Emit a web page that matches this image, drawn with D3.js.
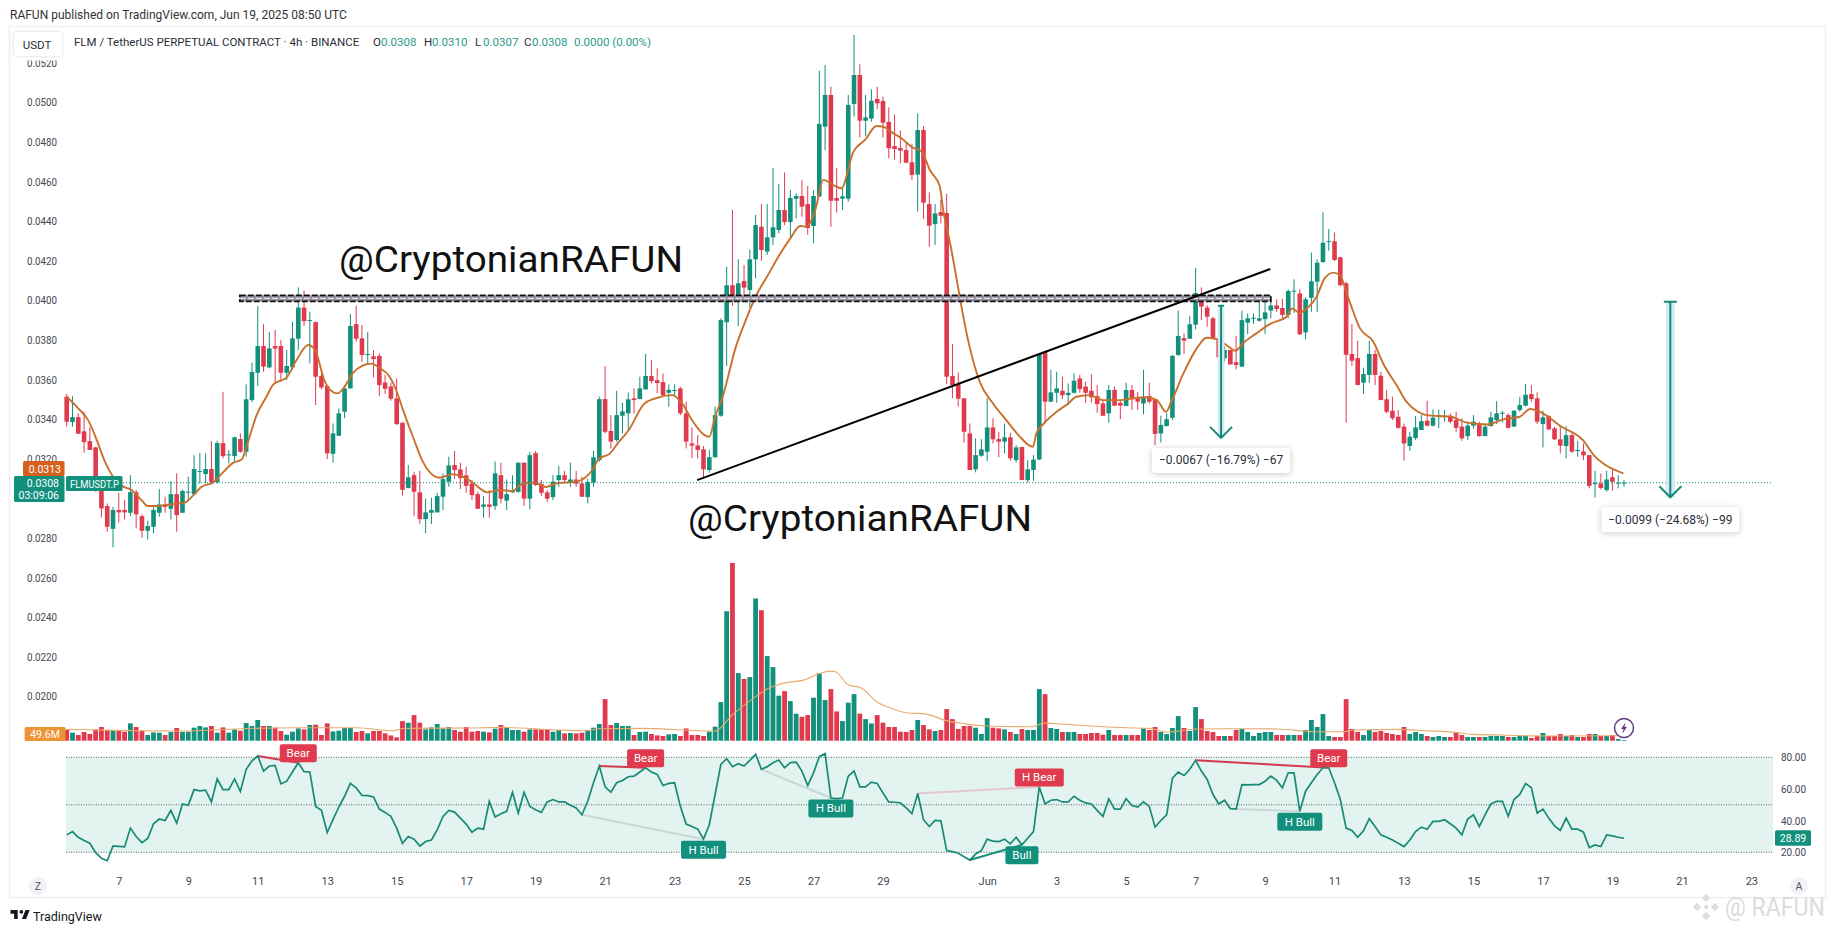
<!DOCTYPE html>
<html>
<head>
<meta charset="utf-8">
<title>FLM / TetherUS 4h</title>
<script src="https://cdn.jsdelivr.net/npm/d3@7"></script>
<style>
  html, body { margin: 0; background: #fff; }
  svg { display: block; }
  text { font-family: Roboto, "Noto Sans", sans-serif; }
</style>
</head>
<body>
<div id="container"></div>
<script>
const width = 1835;
const height = 933;
const green = "#12907c";
const red = "#e03a4e";

// first candle opens 5 May 2025 12:00 UTC, one candle every 4 hours
const firstBar = Date.UTC(2025, 4, 5, 12);
const barMs = 4 * 3600 * 1000;

// candle prices, in 1/100000 USDT
const opens = [3514,3386,3411,3339,3290,3258,3043,2962,2847,2942,2942,2928,3032,2911,2837,2857,2928,2970,2948,3022,2928,3031,3022,3135,3123,3149,3083,3280,3218,3214,3300,3236,3497,3635,3770,3662,3770,3770,3635,3662,3807,3964,3898,3891,3619,3568,3226,3317,3438,3556,3881,3809,3726,3718,3720,3586,3566,3506,3383,3053,3118,3031,2896,2928,2930,3009,3085,3169,3147,3117,3076,3022,2958,2970,2962,3118,2989,3031,3034,3181,2999,3229,3073,3031,3007,3093,3118,3083,3096,3076,3007,3080,3194,3502,3341,3295,3418,3430,3506,3502,3551,3619,3597,3588,3534,3544,3556,3430,3278,3268,3248,3144,3208,3418,3890,4077,3994,4098,4053,4208,4373,4247,4319,4356,4457,4396,4514,4528,4487,4376,4525,4878,5038,4518,4514,4514,4993,5139,4908,4919,5018,5008,4902,4780,4770,4760,4698,4636,4861,4487,4386,4447,4442,3619,3578,3506,3329,3147,3216,3236,3359,3300,3287,3309,3194,3260,3093,3144,3197,3741,3489,3534,3544,3522,3534,3607,3565,3544,3517,3480,3430,3548,3484,3467,3548,3506,3480,3517,3501,3329,3366,3408,3725,3810,3807,3878,4033,3964,3910,3809,3708,3750,3688,3666,3888,3908,3898,3906,3949,3975,3962,3927,4046,4036,3839,4013,4095,4194,4297,4299,4218,4087,3730,3709,3585,3624,3730,3620,3501,3443,3413,3363,3265,3305,3346,3393,3368,3413,3413,3418,3396,3363,3315,3368,3379,3315,3366,3396,3430,3421,3363,3447,3469,3527,3506,3376,3416,3354,3299,3265,3320,3241,3238,3219,3075,3076,3043,3107,3076,3080];
const highs = [3528,3517,3430,3438,3359,3261,3110,2975,2958,3029,2992,3118,3043,2920,2888,2958,3048,3009,3088,3127,3046,3110,3219,3231,3228,3290,3292,3539,3245,3312,3329,3576,3686,3972,3881,3842,3851,3800,3750,3893,4066,4050,3943,3893,3632,3568,3379,3455,3573,3932,3972,3876,3841,3750,3733,3624,3585,3607,3383,3169,3135,3139,3000,3004,3029,3127,3211,3240,3181,3160,3093,3034,3012,3043,3187,3181,3096,3118,3181,3181,3236,3240,3093,3043,3118,3165,3139,3181,3139,3110,3101,3241,3514,3669,3421,3544,3484,3536,3556,3615,3730,3699,3657,3632,3576,3576,3565,3489,3359,3320,3265,3245,3464,3910,4171,4457,4208,4179,4258,4432,4487,4487,4668,4588,4647,4558,4541,4609,4578,4558,5161,5190,5080,4668,4575,5038,5341,5193,5038,5067,5080,5030,4976,4939,4858,4794,4791,4945,4881,4546,4487,4508,4538,3780,3637,3506,3379,3304,3300,3506,3405,3337,3379,3332,3270,3261,3194,3219,3733,3741,3649,3640,3615,3581,3632,3624,3590,3627,3573,3497,3573,3565,3497,3585,3573,3539,3649,3585,3501,3418,3430,3725,3949,3834,3922,4164,4066,3977,3918,3809,3770,3750,3821,3949,3935,3935,4028,4002,4011,4006,4009,4056,4107,4056,4016,4242,4208,4445,4361,4343,4221,4095,3881,3797,3661,3797,3750,3640,3548,3514,3447,3379,3337,3416,3421,3494,3450,3450,3447,3430,3438,3405,3388,3421,3388,3379,3438,3492,3443,3430,3447,3514,3578,3573,3536,3443,3421,3363,3366,3366,3329,3292,3278,3219,3140,3127,3140,3152,3118,3093];
const lows = [3363,3363,3327,3231,3245,3034,2904,2832,2753,2879,2894,2911,2849,2802,2793,2824,2908,2928,2894,2832,2928,2992,3017,3076,3076,3076,3076,3203,3177,3186,3231,3211,3487,3568,3640,3657,3581,3590,3598,3649,3750,3871,3682,3472,3551,3199,3181,3317,3405,3556,3792,3691,3674,3612,3517,3528,3494,3371,3014,3051,2911,2871,2824,2871,2930,2942,3059,3098,3048,3029,2992,2948,2903,2903,2942,2975,2942,3029,3029,2962,2945,3063,3012,2984,2992,3059,3085,3059,3059,3009,2975,3059,3186,3329,3253,3287,3329,3346,3430,3502,3551,3581,3531,3514,3464,3514,3421,3253,3203,3203,3102,3130,3208,3413,3669,3972,3871,4002,3965,4112,4201,4230,4280,4339,4381,4322,4415,4423,4331,4289,4525,4760,4373,4444,4457,4499,4929,4823,4831,4903,4966,4823,4718,4710,4693,4693,4609,4449,4412,4272,4280,4390,3578,3506,3464,3282,3144,3132,3211,3189,3278,3208,3228,3191,3182,3093,3081,3090,3194,3379,3489,3484,3502,3472,3531,3534,3484,3484,3433,3418,3383,3467,3401,3467,3447,3447,3425,3480,3270,3283,3363,3396,3720,3730,3807,3854,3901,3868,3805,3703,3691,3677,3652,3666,3831,3881,3893,3831,3910,3943,3910,3910,3938,3826,3804,3943,3943,4191,4252,4199,4073,3383,3671,3573,3528,3585,3573,3497,3430,3396,3352,3191,3241,3295,3346,3363,3363,3354,3388,3379,3337,3292,3295,3354,3312,3315,3363,3376,3383,3354,3363,3438,3464,3489,3376,3258,3346,3295,3228,3203,3231,3211,3194,3051,3005,3046,3034,3039,3051,3059];
const closes = [3388,3411,3327,3285,3245,3043,2950,2857,2942,2930,2930,3032,2920,2837,2861,2942,2970,2958,3022,2916,3038,3034,3149,3139,3149,3083,3280,3214,3223,3309,3236,3501,3639,3770,3666,3758,3757,3635,3669,3809,3964,3896,3901,3615,3561,3228,3329,3430,3556,3871,3807,3725,3730,3704,3573,3554,3504,3376,3044,3107,3034,2896,2930,2942,3012,3098,3167,3144,3103,3064,3017,2948,2970,2958,3127,2999,3022,3038,3181,2999,3219,3068,3029,2999,3085,3118,3093,3096,3075,3009,3083,3208,3502,3337,3287,3421,3440,3501,3497,3556,3619,3593,3583,3522,3549,3548,3430,3287,3267,3245,3147,3209,3421,3901,4077,4002,4087,4065,4208,4381,4255,4319,4370,4457,4396,4518,4528,4474,4366,4528,4892,5038,4504,4504,4526,4988,5139,4908,4925,5009,4996,4898,4769,4765,4757,4696,4634,4861,4494,4378,4440,4428,3615,3573,3504,3337,3144,3219,3248,3359,3299,3287,3309,3203,3258,3093,3147,3197,3730,3489,3536,3556,3522,3534,3595,3553,3534,3511,3477,3418,3548,3469,3469,3548,3501,3489,3514,3489,3326,3371,3400,3720,3821,3797,3880,4038,3969,3918,3805,3713,3750,3677,3674,3901,3910,3913,3910,3940,3975,3957,3927,4048,4050,3829,4006,4097,4191,4292,4300,4205,4077,3726,3696,3573,3629,3730,3624,3497,3438,3405,3357,3278,3312,3359,3391,3368,3408,3416,3416,3388,3357,3304,3368,3388,3315,3363,3410,3430,3433,3357,3443,3472,3524,3502,3388,3410,3349,3299,3267,3320,3236,3245,3218,3064,3078,3053,3096,3085,3080,3080];

// volume per candle, in millions of FLM
const volumes = [107,80,57,87,67,113,137,107,100,103,90,173,137,100,57,83,80,57,87,127,87,90,130,147,133,147,80,133,80,113,100,177,147,207,147,147,130,97,60,90,123,113,157,160,57,173,93,100,127,127,87,97,73,97,97,73,53,33,196,180,256,180,113,133,167,123,137,107,90,137,90,97,90,83,120,157,127,107,107,90,113,113,113,113,90,107,73,77,73,80,107,130,167,416,157,177,147,147,57,87,90,67,53,47,63,67,47,123,57,57,47,90,140,386,1295,1778,676,619,636,1422,1305,846,736,450,496,396,270,240,256,430,676,406,516,293,196,380,466,270,216,173,256,180,137,137,90,87,107,207,157,113,97,107,316,216,117,147,147,130,67,226,130,123,113,87,67,117,107,107,516,466,127,117,87,87,87,67,67,77,77,60,107,57,57,57,57,57,123,107,137,87,67,127,246,127,97,336,216,97,87,47,47,47,107,117,87,47,77,87,87,57,57,57,57,57,107,207,137,266,47,37,37,416,117,87,57,107,87,97,77,67,57,137,67,87,67,47,37,47,37,37,77,57,37,37,37,37,47,47,47,37,37,47,47,27,47,77,47,47,67,47,57,37,37,67,67,47,47,57,17,7];

// RSI per candle
const rsi = [31.0,33.1,29.5,27.4,25.7,19.8,16.2,14.7,24.0,23.8,23.4,35.3,30.0,26.1,28.7,38.0,41.0,40.1,46.5,38.4,50.5,49.7,59.6,58.8,59.2,51.8,66.4,59.6,59.6,66.4,58.4,72.4,77.7,80.8,71.3,74.5,74.9,63.2,64.9,70.7,76.6,70.9,70.7,49.0,46.5,32.5,40.6,48.6,55.4,63.5,60.7,56.0,55.8,55.0,47.3,45.2,42.7,35.3,25.7,30.0,28.3,24.0,26.8,27.8,34.2,42.7,46.5,45.4,41.6,37.8,32.7,35.3,34.6,52.2,42.3,44.4,45.9,57.9,44.8,57.9,49.0,46.9,45.2,51.8,53.3,51.8,51.8,49.7,48.0,43.7,52.2,63.9,74.5,61.3,57.9,63.9,65.4,67.7,68.1,70.7,73.4,70.7,69.2,62.2,63.5,63.9,49.0,37.8,36.3,34.6,28.3,37.4,56.5,75.5,79.1,74.1,76.0,74.5,78.1,81.9,72.4,74.1,76.6,78.3,73.4,76.6,77.0,71.3,62.2,70.2,80.4,82.3,54.3,53.9,54.3,68.1,71.3,61.3,61.3,64.3,63.5,57.5,51.8,51.6,51.2,48.0,44.4,57.1,40.6,36.3,40.1,39.9,21.1,20.4,19.4,17.2,15.1,18.9,21.1,28.3,27.0,26.8,28.3,25.3,29.5,24.7,28.9,33.1,61.3,50.5,52.9,53.3,51.8,51.8,55.4,52.9,51.2,50.5,46.5,42.7,53.7,47.3,47.3,53.9,49.5,48.6,51.8,49.0,35.9,40.1,43.7,66.9,70.7,68.5,72.4,78.1,71.3,66.0,56.5,50.5,52.9,47.6,47.3,62.8,62.6,62.8,62.8,64.9,68.1,65.4,60.7,70.2,70.2,45.9,58.6,63.9,69.2,73.4,73.4,63.9,53.3,35.3,33.8,29.5,33.6,41.2,36.3,31.0,29.5,27.8,25.7,23.6,27.8,33.1,35.9,34.6,39.5,39.5,40.6,38.0,35.3,31.0,41.0,43.7,36.3,43.7,50.5,52.2,52.2,42.7,53.3,56.5,63.5,60.7,44.8,47.3,41.6,36.7,33.8,41.6,34.6,34.6,32.7,23.0,24.7,23.6,31.0,30.4,29.5,28.89];

// orange moving average over price, read at the bars where it bends
const maBars = [0,2,3.7,5.2,6.6,8,9.5,11.2,13,14,15.5,17.8,20.4,21.9,23.3,25.3,27,28.8,30.2,31.4,32.8,34.5,35.7,38,39.7,41.7,42.9,44.5,45.4,46.8,48,49.4,51.1,52.6,54.3,55.7,56.9,58.3,59.8,61.5,62.9,64.4,66.7,68.4,70.1,72.7,74.7,77,78.8,81,82.8,84.5,88,90.8,92,93.7,95.4,97.1,99.7,101.7,104.6,106.3,108,110,111,112,113.3,115.6,117.3,119,121.3,123,125,126.7,127.8,129.3,130.7,132.4,133.8,135.9,137.9,139.9,141,142.8,144.2,146,147.7,149.1,150.8,151.4,152.6,153.7,154.3,155.7,157.7,160,162.3,164.4,166.9,167.5,168.7,171,173,174.4,176.7,179,181.9,184.2,186.5,188.3,189.9,190.8,192.9,195.2,196.9,198.6,200.9,201.8,203.5,205.5,207.8,210.7,211.7,212.9,214.4,215.9,217.3,218.8,219.9,221.4,223.4,225.7,227.4,229.7,231.4,233.4,234.9,239.1,241.9,245.4,248.2,251,252.8,254.5,258,261.9,264,265.8,268.9];
const maValues = [3514,3455,3396,3295,3186,3110,3064,3043,2989,2962,2962,2970,2979,3017,3059,3081,3132,3181,3197,3295,3421,3514,3576,3612,3699,3775,3750,3598,3551,3531,3565,3632,3671,3681,3654,3619,3548,3430,3312,3186,3127,3105,3123,3110,3081,3031,3043,3038,3076,3080,3058,3076,3085,3144,3203,3224,3287,3346,3477,3506,3522,3480,3396,3324,3312,3413,3514,3767,3901,4019,4137,4225,4314,4376,4373,4457,4609,4583,4567,4752,4811,4881,4878,4844,4819,4774,4752,4659,4578,4457,4289,4112,4011,3800,3590,3480,3396,3320,3261,3329,3376,3438,3480,3514,3522,3497,3497,3506,3511,3497,3438,3489,3632,3758,3812,3805,3763,3746,3792,3834,3881,3918,3960,3938,3965,4019,4112,4141,4129,4011,3859,3792,3682,3573,3489,3438,3421,3413,3383,3374,3400,3413,3452,3438,3366,3295,3211,3169,3127];

// thin moving average over volume
const volMaBars = [0,20,30,40,50,56.4,58.4,69.5,75.6,84.7,89.8,91.8,98.9,112,115.1,118.2,121.2,124.2,127.3,129.8,131.8,132.8,134.9,137.4,139.9,142.5,145,148.5,151.6,154.6,158.7,166.8,168.8,172.9,176.9,183,187,190.1,195.2,203.3,209.4,215.4,220.5,222.5,230.6,234.7,239.8,242.8,247.9,255,268.2];
const volMaValues = [113,97,120,130,130,100,123,127,133,107,100,120,123,97,266,406,523,579,606,666,696,689,563,523,390,323,280,266,206,173,147,140,176,163,147,130,123,87,117,120,117,90,90,107,113,100,83,63,57,47,50];

const priceTicks = [0.052,0.05,0.048,0.046,0.044,0.042,0.04,0.038,0.036,0.034,0.032,0.03,0.028,0.026,0.024,0.022,0.02];
const rsiTicks = [80,60,40,20];
const rsiLevels = [80,50,20];
const dateTicks = [[5,7,"7"],[5,9,"9"],[5,11,"11"],[5,13,"13"],[5,15,"15"],[5,17,"17"],[5,19,"19"],[5,21,"21"],[5,23,"23"],[5,25,"25"],[5,27,"27"],[5,29,"29"],[6,1,"Jun"],[6,3,"3"],[6,5,"5"],[6,7,"7"],[6,9,"9"],[6,11,"11"],[6,13,"13"],[6,15,"15"],[6,17,"17"],[6,19,"19"],[6,21,"21"],[6,23,"23"]];

// RSI divergence markers: from bar, to bar, label, side of the label
const divergences = [
  [33, 40, "Bear", "up"],
  [92, 100, "Bear", "up"],
  [89, 110, "H Bull", "down"],
  [120, 132, "H Bull", "down"],
  [147, 168, "H Bear", "up"],
  [156, 165, "Bull", "down"],
  [202, 213, "H Bull", "down"],
  [195, 218, "Bear", "up"]
];
const divWidths = { "Bear": 37, "H Bull": 45, "H Bear": 49, "Bull": 33 };
const divLines = { "Bear": "#d23a50", "H Bull": "#c9d8d4", "H Bear": "#e6c8cc", "Bull": "#12907c" };

// drawings on the chart
const zoneBars = [29.9, 208];
const zonePrices = [0.04026, 0.03996];
const trendBars = [108.9, 207.9];
const trendPrices = [0.03093, 0.04159];
const measures = [
  { bar: 199.4, from: 0.03974, to: 0.03306, text: "\u22120.0067 (\u221216.79%) \u221267", band: 3.4, cap: 3 },
  { bar: 277, from: 0.03994, to: 0.03006, text: "\u22120.0099 (\u221224.68%) \u221299", band: 4.5, cap: 6.5 }
];
const lastPrice = 0.0308;

const bars = opens.map((o, i) => ({
  i,
  open: o / 1e5,
  high: highs[i] / 1e5,
  low: lows[i] / 1e5,
  close: closes[i] / 1e5,
  volume: volumes[i],
  up: closes[i] >= o
}));

const svg = d3.select("#container").append("svg")
  .attr("width", width)
  .attr("height", height);

const barTime = i => new Date(firstBar + i * barMs);
const x = d3.scaleUtc()
  .domain([barTime(0), barTime(269)])
  .range([66.7, 1624]);
const xBar = i => x(barTime(i));
const y = d3.scaleLinear().domain([0.02, 0.052]).range([696.5, 62.9]);
const yVol = d3.scaleLinear().domain([0, 1780]).range([740.7, 562.7]);
const yRsi = d3.scaleLinear().domain([20, 80]).range([852.3, 757.3]);

function label(parent, tx, ty, text, size, fill, anchor) {
  return parent.append("text")
    .attr("x", tx)
    .attr("y", ty)
    .attr("font-size", size)
    .attr("fill", fill)
    .attr("text-anchor", anchor || "start")
    .text(text);
}

function drawFrame() {
  svg.append("rect")
    .attr("x", 9.5).attr("y", 26.5)
    .attr("width", 1816).attr("height", 871)
    .attr("fill", "#fff")
    .attr("stroke", "#eef0f3")
    .attr("stroke-width", 1.5);
}

function drawAxes() {
  svg.append("clipPath").attr("id", "axisClip")
    .append("rect").attr("x", 0).attr("y", 60.5).attr("width", 70).attr("height", 660);

  const priceAxis = svg.append("g")
    .attr("clip-path", "url(#axisClip)")
    .append("g")
    .attr("transform", "translate(57,0)")
    .call(d3.axisLeft(y).tickValues(priceTicks).tickFormat(d3.format(".4f")).tickSize(0).tickPadding(0));
  priceAxis.select(".domain").remove();
  priceAxis.selectAll("text")
    .attr("font-size", 10.5)
    .attr("fill", "#434651")
    .attr("font-family", "Roboto")
    .attr("textLength", 30)
    .attr("lengthAdjust", "spacingAndGlyphs");

  const rsiAxis = svg.append("g")
    .attr("transform", "translate(1781,0)")
    .call(d3.axisRight(yRsi).tickValues(rsiTicks).tickFormat(d3.format(".2f")).tickSize(0).tickPadding(0));
  rsiAxis.select(".domain").remove();
  rsiAxis.selectAll("text")
    .attr("font-size", 10.5)
    .attr("fill", "#434651")
    .attr("font-family", "Roboto")
    .attr("textLength", 25)
    .attr("lengthAdjust", "spacingAndGlyphs");

  const dates = dateTicks.map(d => new Date(Date.UTC(2025, d[0] - 1, d[1])));
  const names = new Map(dates.map((d, i) => [+d, dateTicks[i][2]]));
  const dateAxis = svg.append("g")
    .attr("transform", "translate(0,875)")
    .call(d3.axisBottom(x).tickValues(dates).tickFormat(d => names.get(+d)).tickSize(0).tickPadding(2));
  dateAxis.select(".domain").remove();
  dateAxis.selectAll("text").attr("font-size", 11).attr("fill", "#434651").attr("font-family", "Roboto");
}

function drawCandles() {
  svg.append("g").selectAll("line")
    .data(bars)
    .join("line")
    .attr("x1", d => xBar(d.i))
    .attr("x2", d => xBar(d.i))
    .attr("y1", d => y(d.high))
    .attr("y2", d => y(d.low))
    .attr("stroke", d => d.up ? green : red)
    .attr("stroke-width", 1);

  svg.append("g").selectAll("rect")
    .data(bars)
    .join("rect")
    .attr("x", d => xBar(d.i) - 2.3)
    .attr("width", 4.6)
    .attr("y", d => y(Math.max(d.open, d.close)))
    .attr("height", d => Math.max(1, Math.abs(y(d.open) - y(d.close))))
    .attr("fill", d => d.up ? green : red);

  const maLine = d3.line()
    .x((d, i) => xBar(maBars[i]))
    .y(d => y(d / 1e5))
    .curve(d3.curveMonotoneX);
  svg.append("path")
    .attr("d", maLine(maValues))
    .attr("fill", "none")
    .attr("stroke", "#c8702c")
    .attr("stroke-width", 1.9);
}

function drawVolume() {
  svg.append("g").selectAll("rect")
    .data(bars)
    .join("rect")
    .attr("x", d => xBar(d.i) - 2.4)
    .attr("width", 4.8)
    .attr("y", d => yVol(d.volume))
    .attr("height", d => yVol(0) - yVol(d.volume))
    .attr("fill", d => d.up ? green : red);

  const volLine = d3.line()
    .x((d, i) => xBar(volMaBars[i]))
    .y(d => yVol(d))
    .curve(d3.curveMonotoneX);
  svg.append("path")
    .attr("d", volLine(volMaValues))
    .attr("fill", "none")
    .attr("stroke", "#e8ab6c")
    .attr("stroke-width", 1.1);

  svg.append("rect")
    .attr("x", 24.6).attr("y", 727).attr("width", 41).attr("height", 14).attr("rx", 1.5)
    .attr("fill", "#ec9336");
  label(svg, 45, 738, "49.6M", 10.5, "#fff", "middle");

  // lightning badge after the last bar
  svg.append("circle")
    .attr("cx", xBar(269)).attr("cy", 728).attr("r", 9.5)
    .attr("fill", "#fff").attr("stroke", "#5f3f7d").attr("stroke-width", 1.5);
  svg.append("path")
    .attr("transform", `translate(${xBar(269)},728)`)
    .attr("d", "M1.5,-5.5 L-3,1 L-0.5,1 L-1.5,5.5 L3,-1 L0.5,-1 Z")
    .attr("fill", "#5f3f7d");
}

function drawRsi() {
  svg.append("rect")
    .attr("x", 66)
    .attr("y", yRsi(80))
    .attr("width", 1707)
    .attr("height", yRsi(20) - yRsi(80))
    .attr("fill", "#e3f3f0");

  svg.append("g").selectAll("line")
    .data(rsiLevels)
    .join("line")
    .attr("x1", 66)
    .attr("x2", 1773)
    .attr("y1", d => yRsi(d))
    .attr("y2", d => yRsi(d))
    .attr("stroke", "#5f6b69")
    .attr("stroke-dasharray", "1 1.5");

  const rsiLine = d3.line()
    .x((d, i) => xBar(i))
    .y(d => yRsi(d));

  // divergence lines go under the RSI line
  svg.append("g").selectAll("line")
    .data(divergences)
    .join("line")
    .attr("x1", d => xBar(d[0]))
    .attr("x2", d => xBar(d[1]))
    .attr("y1", d => yRsi(rsi[d[0]]))
    .attr("y2", d => yRsi(rsi[d[1]]))
    .attr("stroke", d => divLines[d[2]])
    .attr("stroke-width", 2);

  svg.append("path")
    .attr("d", rsiLine(rsi))
    .attr("fill", "none")
    .attr("stroke", "#178a78")
    .attr("stroke-width", 1.7);

  divergences.forEach(d => {
    const w = divWidths[d[2]];
    const py = yRsi(rsi[d[1]]);
    const top = d[3] === "up" ? py - 18.5 : py + 1.5;
    const isRed = d[2].includes("Bear");
    svg.append("rect")
      .attr("x", xBar(d[1]) - w / 2)
      .attr("y", top)
      .attr("width", w)
      .attr("height", 18)
      .attr("rx", 2)
      .attr("fill", isRed ? red : green);
    label(svg, xBar(d[1]), top + 13, d[2], 11.5, "#fff", "middle");
  });

  svg.append("rect")
    .attr("x", 1775).attr("y", yRsi(28.89) - 8).attr("width", 36).attr("height", 15.5).attr("rx", 1.5)
    .attr("fill", green);
  label(svg, 1793, yRsi(28.89) + 4, "28.89", 10.5, "#fff", "middle");
}

function drawDrawings() {
  const yLast = y(lastPrice);
  svg.append("line")
    .attr("x1", 66).attr("x2", 1772).attr("y1", yLast).attr("y2", yLast)
    .attr("stroke", "#178a78")
    .attr("stroke-dasharray", "1 2");

  // dashed resistance box: grey fill, black dashes on both edges, pale dashes in the middle
  const zoneX = xBar(zoneBars[0]);
  const zoneW = xBar(zoneBars[1]) - zoneX;
  const zoneTop = y(zonePrices[0]);
  const zoneH = y(zonePrices[1]) - zoneTop;
  svg.append("rect")
    .attr("x", zoneX).attr("y", zoneTop)
    .attr("width", zoneW).attr("height", zoneH)
    .attr("fill", "#97909f")
    .attr("stroke", "#111")
    .attr("stroke-width", 1.7)
    .attr("stroke-dasharray", "6 2");
  svg.append("line")
    .attr("x1", zoneX).attr("x2", zoneX + zoneW)
    .attr("y1", zoneTop + zoneH / 2).attr("y2", zoneTop + zoneH / 2)
    .attr("stroke", "#e6e3ea")
    .attr("stroke-width", 1.2)
    .attr("stroke-dasharray", "6 2");

  svg.append("line")
    .attr("x1", xBar(trendBars[0])).attr("y1", y(trendPrices[0]))
    .attr("x2", xBar(trendBars[1])).attr("y2", y(trendPrices[1]))
    .attr("stroke", "#000")
    .attr("stroke-width", 2);

  measures.forEach(m => {
    const mx = xBar(m.bar);
    const top = y(m.from);
    const bottom = y(m.to);
    svg.append("rect")
      .attr("x", mx - m.band).attr("y", top)
      .attr("width", m.band * 2).attr("height", bottom - top)
      .attr("fill", "#d5ecf7");
    svg.append("path")
      .attr("d", `M${mx - m.cap},${top} H${mx + m.cap} M${mx},${top} V${bottom} M${mx - 11},${bottom - 11} L${mx},${bottom} L${mx + 11},${bottom - 11}`)
      .attr("fill", "none")
      .attr("stroke", "#178a78")
      .attr("stroke-width", 2);
    const box = svg.append("g").attr("transform", `translate(${mx},${bottom})`);
    box.append("rect")
      .attr("x", -69).attr("y", 10)
      .attr("width", 138).attr("height", 25).attr("rx", 3)
      .attr("fill", "#fff")
      .style("filter", "drop-shadow(0 1px 3px rgba(0,0,0,.22))");
    label(box, 0, 26.5, m.text, 12, "#2a2e39", "middle");
  });

  label(svg, 339, 272, "@CryptonianRAFUN", 37, "#111")
    .attr("font-family", "Noto Sans")
    .attr("textLength", 344)
    .attr("lengthAdjust", "spacingAndGlyphs");
  label(svg, 688, 531, "@CryptonianRAFUN", 37, "#111")
    .attr("font-family", "Noto Sans")
    .attr("textLength", 344)
    .attr("lengthAdjust", "spacingAndGlyphs");
}

function drawHeader() {
  label(svg, 10, 19, "RAFUN published on TradingView.com, Jun 19, 2025 08:50 UTC", 12, "#333");

  svg.append("rect")
    .attr("x", 14).attr("y", 32).attr("width", 48).attr("height", 24).attr("rx", 3)
    .attr("fill", "#fff")
    .style("filter", "drop-shadow(0 0 1.5px rgba(0,0,0,.18))");
  label(svg, 37, 49, "USDT", 11.5, "#2a2e39", "middle");

  label(svg, 74, 46, "FLM / TetherUS PERPETUAL CONTRACT \u00b7 4h \u00b7 BINANCE", 11.5, "#2a2e39");
  const ohlc = [["O", "0.0308", 373], ["H", "0.0310", 424], ["L", "0.0307", 475], ["C", "0.0308", 524]];
  ohlc.forEach(d => {
    label(svg, d[2], 46, d[0], 11.5, "#2a2e39");
    label(svg, d[2] + 8, 46, d[1], 11.5, "#2b9a8a");
  });
  label(svg, 574, 46, "0.0000 (0.00%)", 11.5, "#2b9a8a");

  // price tags on the left
  svg.append("rect").attr("x", 23).attr("y", 461).attr("width", 41.5).attr("height", 15).attr("rx", 1.5).attr("fill", "#d4601c");
  label(svg, 61, 472.5, "0.0313", 10.5, "#fff", "end");
  svg.append("rect").attr("x", 14).attr("y", 476).attr("width", 50.5).attr("height", 26).attr("rx", 1.5).attr("fill", green);
  label(svg, 59, 487, "0.0308", 10.5, "#fff", "end");
  label(svg, 59, 499, "03:09:06", 10.5, "#fff", "end");
  svg.append("rect").attr("x", 66).attr("y", 476).attr("width", 56.5).attr("height", 15).attr("rx", 1.5).attr("fill", green);
  label(svg, 70, 487.5, "FLMUSDT.P", 10.5, "#fff")
    .attr("textLength", 49)
    .attr("lengthAdjust", "spacingAndGlyphs");

  // scale mode buttons
  [[38, "Z"], [1799, "A"]].forEach(d => {
    svg.append("circle").attr("cx", d[0]).attr("cy", 886).attr("r", 9).attr("fill", "#f0f2f5");
    label(svg, d[0], 890, d[1], 10.5, "#50535e", "middle");
  });
}

function drawFooter() {
  const logo = svg.append("g").attr("transform", "translate(9.3,906.5) scale(0.6)").attr("fill", "#131722");
  logo.append("path").attr("d", "M14 6H2v6h6v9h6V6zM28 21h-7l6-15h7l-6 15z");
  logo.append("circle").attr("cx", 20).attr("cy", 9).attr("r", 3);
  label(svg, 33, 921, "TradingView", 12.5, "#131722");

  // exchange watermark
  const mark = svg.append("g").attr("transform", "translate(1706,907)").attr("fill", "#dedede");
  [[0, -9, 6], [-9, 0, 6], [9, 0, 6], [0, 9, 6], [0, 0, 4]].forEach(d => {
    mark.append("rect")
      .attr("x", -d[2] / 2).attr("y", -d[2] / 2)
      .attr("width", d[2]).attr("height", d[2])
      .attr("transform", `translate(${d[0]},${d[1]}) rotate(45)`);
  });
  label(svg, 1725, 916, "@ RAFUN", 25, "#dcdcdc")
    .attr("textLength", 100)
    .attr("lengthAdjust", "spacingAndGlyphs");
}

function runApp() {
  drawFrame();
  drawRsi();
  drawVolume();
  drawCandles();
  drawDrawings();
  drawAxes();
  drawHeader();
  drawFooter();
}

runApp();
</script>
</body>
</html>
